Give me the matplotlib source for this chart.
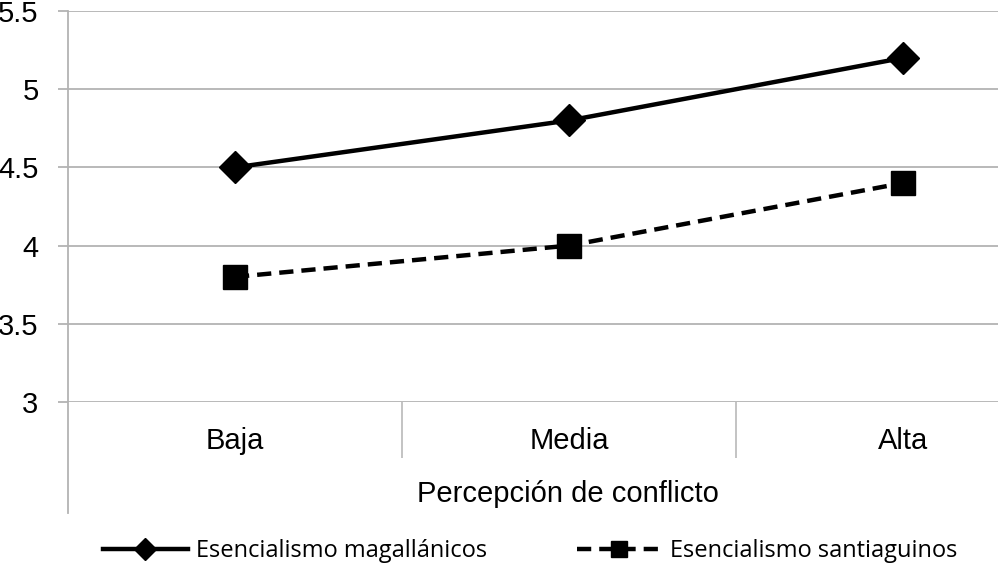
import matplotlib.pyplot as plt
from matplotlib.lines import Line2D

categories = ['Baja', 'Media', 'Alta']
magallanicos = [4.5, 4.8, 5.2]
santiaguinos = [3.8, 4.0, 4.4]
yticks = [3, 3.5, 4, 4.5, 5, 5.5]
ytick_labels = ['3', '3.5', '4', '4.5', '5', '5.5']

W, H = 998, 567
fig = plt.figure(figsize=(W / 100, H / 100), dpi=100)
grid_col = '#b3b3b3'

# axes run past the right edge, the original picture is cropped there
left, right, top, bottom = 68, 1070, 11, 402
ax = fig.add_axes([left / W, 1 - bottom / H, (right - left) / W, (bottom - top) / H])

x = range(len(categories))
ax.plot(x, magallanicos, color='black', lw=3.2, marker='D', ms=16,
        label='Esencialismo magallánicos')
ax.plot(x, santiaguinos, color='black', lw=3.2, ls=(0, (3.2, 1.8)), marker='s', ms=17,
        label='Esencialismo santiaguinos')

ax.set_xlim(-0.5, 2.5)
ax.set_ylim(3, 5.5)
ax.set_yticks(yticks)
ax.set_yticklabels(ytick_labels)
ax.yaxis.grid(True, color=grid_col, lw=1.3)
ax.set_axisbelow(True)
for s in ax.spines.values():
    s.set_visible(False)

ax.set_xticks(list(x))
ax.set_xticklabels(categories)
ax.set_xticks([0.5, 1.5], minor=True)
ax.tick_params(axis='x', which='major', length=0, pad=18, labelsize=21)
ax.tick_params(axis='x', which='minor', length=40, width=1.1, color=grid_col, direction='out')
ax.tick_params(axis='y', length=7.2, width=1.3, color=grid_col, pad=14, labelsize=21)
for lbl in ax.get_xticklabels() + ax.get_yticklabels():
    lbl.set_family('Liberation Sans')

# left axis line runs down past the category labels
fig.add_artist(Line2D([left / W, left / W], [1 - top / H, 1 - 513 / H],
                      color=grid_col, lw=1.3))

fig.text(568 / W, 1 - 494 / H, 'Percepción de conflicto', ha='center', va='center',
         fontsize=21, family='Liberation Sans')

fig.legend(loc='center', bbox_to_anchor=(530 / W, 1 - 551 / H), ncol=2,
           frameon=False, handlelength=3.6, columnspacing=3.8, handletextpad=0.35,
           markerscale=0.7, prop={'family': 'Open Sans', 'size': 17})

fig.savefig('out.png', dpi=100)
